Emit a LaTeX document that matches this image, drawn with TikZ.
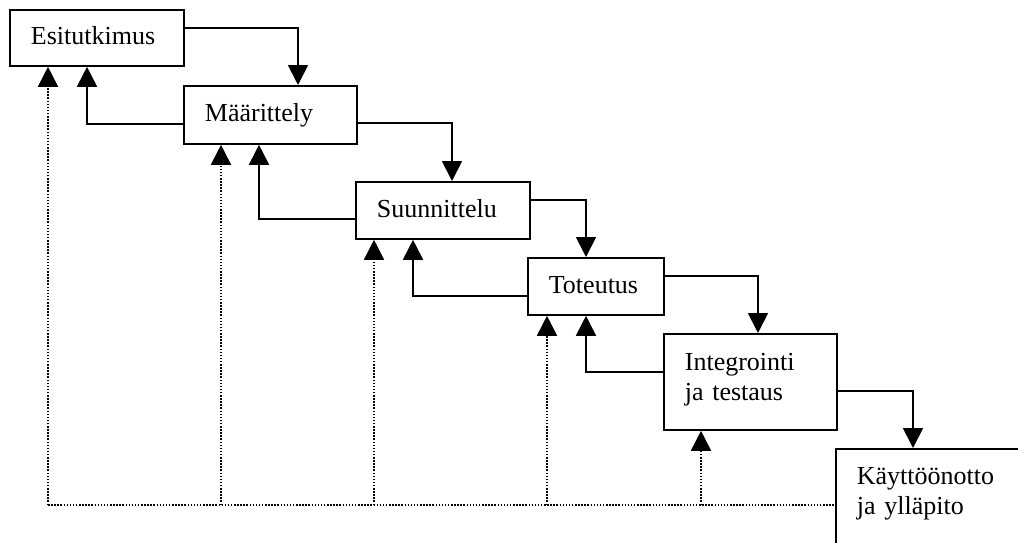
\documentclass[tikz,border=0pt]{standalone}
\usepackage{fontspec}
\setmainfont{Liberation Serif}
\usetikzlibrary{arrows.meta}
\tikzset{
  box/.style={draw, line width=1.8pt, anchor=north west, align=left,
    inner xsep=21pt, inner ysep=0pt, text height=18pt, text depth=4pt,
    font=\fontsize{26}{30}\selectfont},
  twoline/.style={text depth=40pt},
  conn/.style={line width=1.8pt, -{Triangle[length=20pt,width=20pt]}},
  dotline/.style={line width=1.7pt, dash pattern=on 1.5pt off 1.6pt},
  dotarrow/.style={dotline, -{Triangle[length=20pt,width=20pt]}}
}
\begin{document}
\begin{tikzpicture}[x=1pt,y=-1pt]
\useasboundingbox (0,0) rectangle (1018,542);
\clip (0,0) rectangle (1018,542);
\node[box, text width=132pt, minimum height=56pt] (esi) at (9,9) {Esitutkimus};
\node[box, text width=131pt, minimum height=58pt] (maa) at (183,85) {Määrittely};
\node[box, text width=132pt, minimum height=57pt] (suu) at (355,181) {Suunnittelu};
\node[box, text width=94pt, minimum height=57pt] (tot) at (527,257) {Toteutus};
\node[box, twoline, text width=131pt, minimum height=96pt] (int) at (663,333) {Integrointi\\ja testaus};
\node[box, text depth=56pt, text width=163pt, minimum height=110pt] (kay) at (835,448) {Käyttöönotto\\ja ylläpito};
% forward arrows
\draw[conn] (esi.east |- 0,28) -| (maa.north -| 298,0);
\draw[conn] (maa.east |- 0,123) -| (suu.north -| 452,0);
\draw[conn] (suu.east |- 0,200) -| (tot.north -| 586,0);
\draw[conn] (tot.east |- 0,276) -| (int.north -| 758,0);
\draw[conn] (int.east |- 0,391) -| (kay.north -| 913,0);
% feedback arrows
\draw[conn] (maa.west |- 0,124) -| (esi.south -| 87,0);
\draw[conn] (suu.west |- 0,219) -| (maa.south -| 259,0);
\draw[conn] (tot.west |- 0,296) -| (suu.south -| 413,0);
\draw[conn] (int.west |- 0,372) -| (tot.south -| 586,0);
% dotted return lines
\coordinate (corner) at (48,505);
\draw[dotline] (corner) -- (kay.west |- corner);
\draw[dotarrow] (corner) -- (esi.south -| corner);
\draw[dotarrow] (corner -| 221,0) -- (maa.south -| 221,0);
\draw[dotarrow] (corner -| 374,0) -- (suu.south -| 374,0);
\draw[dotarrow] (corner -| 547,0) -- (tot.south -| 547,0);
\draw[dotarrow] (corner -| 701,0) -- (int.south -| 701,0);
\end{tikzpicture}
\end{document}
